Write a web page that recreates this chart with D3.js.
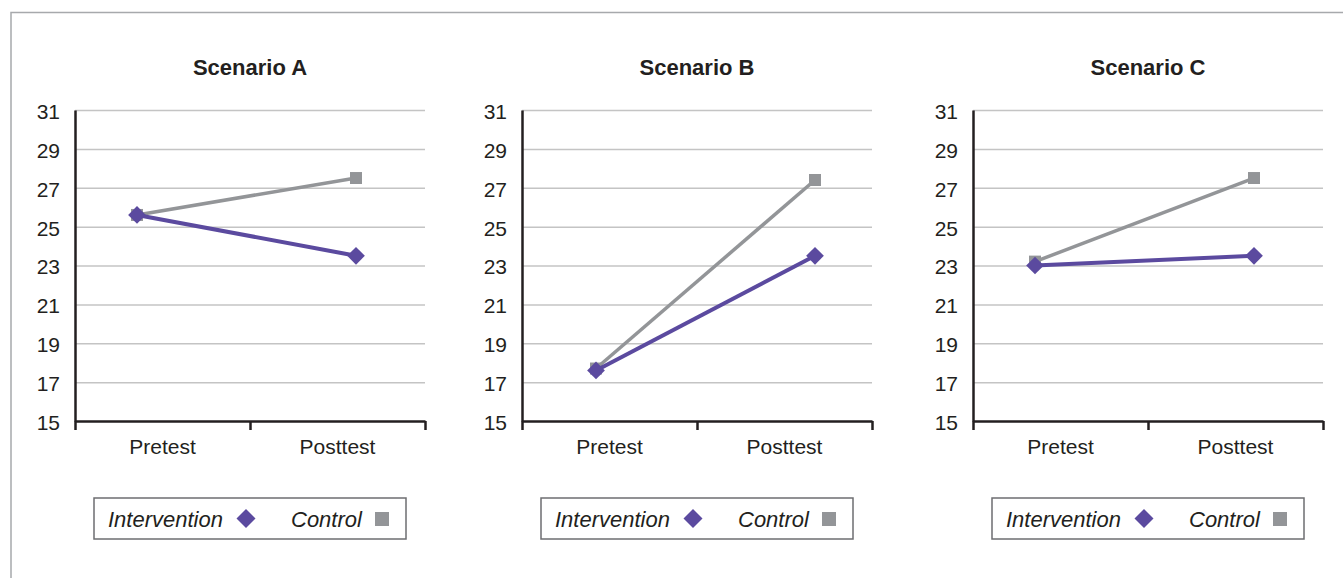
<!DOCTYPE html>
<html>
<head>
<meta charset="utf-8">
<script src="https://cdn.jsdelivr.net/npm/d3@7"></script>
<style>
  body { margin: 0; background: #fff; }
  svg { display: block; }
  text { font-family: "Liberation Sans", Arial, sans-serif; fill: #231f20; }
</style>
</head>
<body>
<svg></svg>
<script>
// values
var scenarios = ["Scenario A", "Scenario B", "Scenario C"];
var phases = ["Pretest", "Posttest"];
var seriesNames = ["Intervention", "Control"];
var intervention = [[25.6, 23.5], [17.6, 23.5], [23.0, 23.5]];
var control = [[25.6, 27.5], [17.7, 27.4], [23.2, 27.5]];
var yTicks = [15, 17, 19, 21, 23, 25, 27, 29, 31];

var svgWidth = 1343, svgHeight = 578;
var plotWidth = 350, plotTop = 110, plotBottom = 421;
var panelLeft = [75, 522, 973];
// where the markers sit inside each plot (px from its left edge)
var pointRange = [[62, 281], [74, 293], [62, 281]];

var purple = "#5b4a9f", grey = "#939598";

var svg = d3.select("svg")
    .attr("width", svgWidth)
    .attr("height", svgHeight);

// outer frame, right and bottom edges fall outside the window
svg.append("rect")
    .attr("x", 11).attr("y", 12.5)
    .attr("width", 1400).attr("height", 700)
    .attr("fill", "none")
    .attr("stroke", "#a7a9ac")
    .attr("stroke-width", 1.5);

var y = d3.scaleLinear().domain([15, 31]).range([plotBottom, plotTop]);
var diamond = d3.symbol().type(d3.symbolDiamond2).size(200);
var square = d3.symbol().type(d3.symbolSquare).size(144);

scenarios.forEach(function(name, i) {
    var g = svg.append("g").attr("transform", "translate(" + panelLeft[i] + ",0)");

    var band = d3.scaleBand().domain(phases).range([0, plotWidth]);
    var xPoint = d3.scalePoint().domain(phases).range(pointRange[i]);
    var xTicks = d3.scaleLinear().domain([0, phases.length]).range([0, plotWidth]);

    g.append("text")
        .attr("x", plotWidth / 2).attr("y", 75)
        .attr("text-anchor", "middle")
        .style("font-size", "22px")
        .style("font-weight", "bold")
        .text(name);

    // grid
    var grid = g.append("g")
        .call(d3.axisLeft(y).tickValues(yTicks.slice(1)).tickSize(-plotWidth).tickFormat(""));
    grid.select(".domain").remove();
    grid.selectAll("line").attr("stroke", "#c4c4c4").attr("stroke-width", 1.5);

    // y axis
    var ya = g.append("g")
        .call(d3.axisLeft(y).tickValues(yTicks).tickSize(0).tickPadding(15));
    ya.select(".domain").attr("stroke", "#231f20").attr("stroke-width", 2.5);
    ya.selectAll("text").style("font-size", "21px").attr("dy", "0.4em").attr("fill", "#231f20");

    // x axis: labels in band centres, ticks on band edges
    var xa = g.append("g").attr("transform", "translate(0," + plotBottom + ")")
        .call(d3.axisBottom(xTicks).tickValues([0, 1, 2]).tickSize(9).tickFormat("").tickSizeOuter(0));
    xa.select(".domain").attr("stroke", "#231f20").attr("stroke-width", 2.5);
    xa.selectAll("line").attr("stroke", "#231f20").attr("stroke-width", 2.5);

    var xl = g.append("g").attr("transform", "translate(0," + plotBottom + ")")
        .call(d3.axisBottom(band).tickSize(0).tickPadding(18));
    xl.select(".domain").remove();
    xl.selectAll("text").style("font-size", "21px").attr("fill", "#231f20");

    var line = d3.line()
        .x(function(d, j) { return xPoint(phases[j]); })
        .y(function(d) { return y(d); });

    // control drawn first, intervention on top
    g.append("path").datum(control[i])
        .attr("d", line).attr("fill", "none")
        .attr("stroke", grey).attr("stroke-width", 3.5);
    g.selectAll(".sq").data(control[i]).enter().append("path")
        .attr("transform", function(d, j) { return "translate(" + xPoint(phases[j]) + "," + y(d) + ")"; })
        .attr("d", square).attr("fill", grey);

    g.append("path").datum(intervention[i])
        .attr("d", line).attr("fill", "none")
        .attr("stroke", purple).attr("stroke-width", 4);
    g.selectAll(".dm").data(intervention[i]).enter().append("path")
        .attr("transform", function(d, j) { return "translate(" + xPoint(phases[j]) + "," + y(d) + ")"; })
        .attr("d", diamond).attr("fill", purple);

    // legend
    var lg = g.append("g").attr("transform", "translate(19,498)");
    lg.append("rect")
        .attr("width", 312).attr("height", 41)
        .attr("fill", "#fff").attr("stroke", "#6d6e71").attr("stroke-width", 1.5);
    lg.append("text").attr("x", 14).attr("y", 28.5)
        .style("font-size", "22px").style("font-style", "italic")
        .text(seriesNames[0]);
    lg.append("path").attr("transform", "translate(152,20.5)")
        .attr("d", d3.symbol().type(d3.symbolDiamond2).size(230)).attr("fill", purple);
    lg.append("text").attr("x", 197).attr("y", 28.5)
        .style("font-size", "22px").style("font-style", "italic")
        .text(seriesNames[1]);
    lg.append("path").attr("transform", "translate(288,21)")
        .attr("d", d3.symbol().type(d3.symbolSquare).size(196)).attr("fill", grey);
});
</script>
</body>
</html>
